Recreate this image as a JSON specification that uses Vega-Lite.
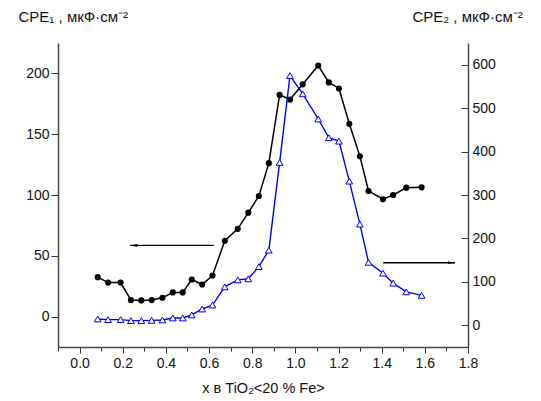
{
  "$schema": "https://vega.github.io/schema/vega-lite/v6.json",
  "width": 410,
  "height": 304,
  "autosize": "none",
  "padding": {"left": 58, "top": 43, "right": 73, "bottom": 54},
  "background": "white",
  "config": {
    "view": {"stroke": null},
    "font": "Liberation Sans",
    "axis": {
      "grid": false,
      "domainColor": "#444444",
      "domainWidth": 1.5,
      "tickColor": "#333333",
      "tickWidth": 1,
      "labelColor": "#111111",
      "labelFontSize": 14,
      "titleFontSize": 14.5,
      "titleFontWeight": "normal",
      "titleColor": "#111111",
      "labelFont": "Liberation Sans",
      "titleFont": "Liberation Sans"
    }
  },
  "datasets": {
    "cpe": [
      {"x": 0.084, "cpe1": 32.4, "cpe2": 14.6},
      {"x": 0.132, "cpe1": 28.0, "cpe2": 13.0},
      {"x": 0.19, "cpe1": 28.0, "cpe2": 13.0},
      {"x": 0.238, "cpe1": 13.6, "cpe2": 10.7},
      {"x": 0.286, "cpe1": 13.3, "cpe2": 10.7},
      {"x": 0.334, "cpe1": 13.6, "cpe2": 11.4},
      {"x": 0.384, "cpe1": 15.5, "cpe2": 12.3},
      {"x": 0.432, "cpe1": 19.9, "cpe2": 16.9},
      {"x": 0.478, "cpe1": 19.9, "cpe2": 16.9},
      {"x": 0.52, "cpe1": 30.5, "cpe2": 23.8},
      {"x": 0.568, "cpe1": 26.4, "cpe2": 37.5},
      {"x": 0.616, "cpe1": 33.8, "cpe2": 46.6},
      {"x": 0.673, "cpe1": 62.4, "cpe2": 88.5},
      {"x": 0.733, "cpe1": 72.2, "cpe2": 104.5},
      {"x": 0.782, "cpe1": 85.5, "cpe2": 107},
      {"x": 0.831, "cpe1": 99.2, "cpe2": 135},
      {"x": 0.877, "cpe1": 126.2, "cpe2": 173},
      {"x": 0.927, "cpe1": 182.3, "cpe2": 375},
      {"x": 0.975, "cpe1": 178.5, "cpe2": 575},
      {"x": 1.034, "cpe1": 191.0, "cpe2": 533},
      {"x": 1.106, "cpe1": 206.5, "cpe2": 475},
      {"x": 1.155, "cpe1": 192.6, "cpe2": 432},
      {"x": 1.202, "cpe1": 187.6, "cpe2": 424},
      {"x": 1.25, "cpe1": 158.6, "cpe2": 332},
      {"x": 1.299, "cpe1": 131.9, "cpe2": 233},
      {"x": 1.339, "cpe1": 103.3, "cpe2": 145},
      {"x": 1.406, "cpe1": 96.5, "cpe2": 120},
      {"x": 1.453, "cpe1": 100.0, "cpe2": 97},
      {"x": 1.514, "cpe1": 106.0, "cpe2": 77},
      {"x": 1.585, "cpe1": 106.3, "cpe2": 69}
    ],
    "arrowLeft": [{"x": 0.235, "x2": 0.622, "y": 58.5}],
    "arrowRight": [{"x": 1.407, "x2": 1.74, "y": 144}]
  },
  "encoding": {
    "x": {
      "field": "x",
      "type": "quantitative",
      "scale": {"domain": [-0.1, 1.8], "nice": false, "zero": false},
      "axis": {
        "orient": "bottom",
        "values": [-0.1, 0, 0.1, 0.2, 0.3, 0.4, 0.5, 0.6, 0.7, 0.8, 0.9, 1.0, 1.1, 1.2, 1.3, 1.4, 1.5, 1.6, 1.7, 1.8],
        "format": ".1f",
        "labelExpr": "round(datum.value * 10) % 2 === 0 ? datum.label : ''",
        "tickSize": {"condition": {"test": "round(datum.value * 10) % 2 === 0", "value": 6}, "value": 4},
        "labelPadding": 3,
        "labelFlush": false,
        "labelOverlap": false,
        "title": "x в TiO₂<20 % Fe>",
        "titlePadding": 11
      }
    }
  },
  "layer": [
    {
      "layer": [
        {
          "data": {"name": "cpe"},
          "mark": {"type": "line", "color": "#000000", "strokeWidth": 1.5},
          "encoding": {
            "y": {
              "field": "cpe1",
              "type": "quantitative",
              "scale": {"domain": [-25, 225], "nice": false, "zero": false},
              "axis": {
                "orient": "left",
                "values": [0, 25, 50, 75, 100, 125, 150, 175, 200],
                "labelExpr": "datum.value % 50 === 0 ? datum.label : ''",
                "tickSize": {"condition": {"test": "datum.value % 50 === 0", "value": 7}, "value": 4},
                "labelPadding": 2,
                "title": "CPE₁ , мкФ·см⁻²",
                "titleFontSize": 15,
                "titleAngle": 0,
                "titleAlign": "left",
                "titleBaseline": "alphabetic",
                "titleX": -40,
                "titleY": -22
              }
            }
          }
        },
        {
          "data": {"name": "cpe"},
          "mark": {"type": "point", "shape": "circle", "filled": true, "color": "#000000", "size": 38, "opacity": 1},
          "encoding": {"y": {"field": "cpe1", "type": "quantitative"}}
        },
        {
          "data": {"name": "arrowLeft"},
          "mark": {"type": "rule", "color": "#000000", "strokeWidth": 1.3},
          "encoding": {
            "x": {"field": "x", "type": "quantitative"},
            "x2": {"field": "x2"},
            "y": {"field": "y", "type": "quantitative"}
          }
        },
        {
          "data": {"name": "arrowLeft"},
          "mark": {"type": "point", "shape": "M-1,0L1,-0.4L0.6,0L1,0.4Z", "filled": true, "color": "#000000", "size": 56, "opacity": 1, "xOffset": 3.7},
          "encoding": {
            "x": {"field": "x", "type": "quantitative"},
            "y": {"field": "y", "type": "quantitative"}
          }
        }
      ]
    },
    {
      "layer": [
        {
          "data": {"name": "cpe"},
          "mark": {"type": "line", "color": "#0000ff", "strokeWidth": 1.4},
          "encoding": {
            "y": {
              "field": "cpe2",
              "type": "quantitative",
              "scale": {"domain": [-50, 650], "nice": false, "zero": false},
              "axis": {
                "orient": "right",
                "values": [0, 50, 100, 150, 200, 250, 300, 350, 400, 450, 500, 550, 600],
                "labelExpr": "datum.value % 100 === 0 ? datum.label : ''",
                "tickSize": {"condition": {"test": "datum.value % 100 === 0", "value": -7}, "value": -4},
                "labelPadding": 11,
                "title": "CPE₂ , мкФ·см⁻²",
                "titleFontSize": 15,
                "titleAngle": 0,
                "titleAlign": "left",
                "titleBaseline": "alphabetic",
                "titleX": -56,
                "titleY": -22
              }
            }
          }
        },
        {
          "data": {"name": "cpe"},
          "mark": {"type": "point", "shape": "triangle-up", "filled": true, "fill": "#ffffff", "stroke": "#0000ff", "strokeWidth": 1, "size": 45, "opacity": 1},
          "encoding": {"y": {"field": "cpe2", "type": "quantitative"}}
        },
        {
          "data": {"name": "arrowRight"},
          "mark": {"type": "rule", "color": "#000000", "strokeWidth": 1.3},
          "encoding": {
            "x": {"field": "x", "type": "quantitative"},
            "x2": {"field": "x2"},
            "y": {"field": "y", "type": "quantitative"}
          }
        },
        {
          "data": {"name": "arrowRight"},
          "mark": {"type": "point", "shape": "M1,0L-1,-0.4L-0.6,0L-1,0.4Z", "filled": true, "color": "#000000", "size": 56, "opacity": 1, "xOffset": -3.7},
          "encoding": {
            "x": {"field": "x2", "type": "quantitative"},
            "y": {"field": "y", "type": "quantitative"}
          }
        }
      ]
    }
  ],
  "resolve": {"scale": {"y": "independent"}, "axis": {"y": "independent"}}
}
